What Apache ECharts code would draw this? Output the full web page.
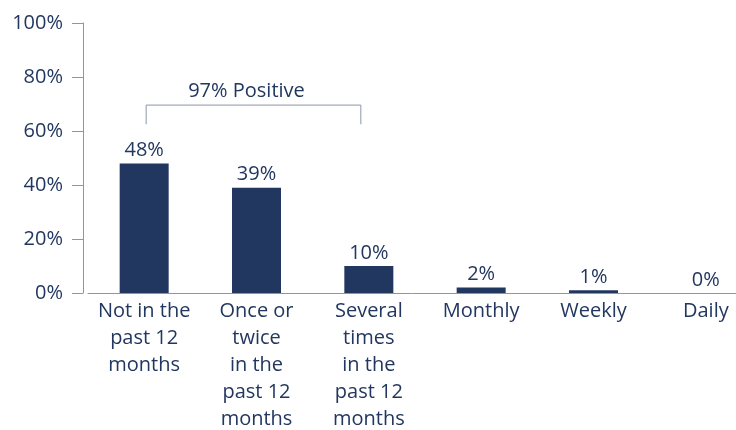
<!DOCTYPE html>
<html>
<head>
<meta charset="utf-8">
<script src="https://cdn.jsdelivr.net/npm/echarts@6/dist/echarts.min.js"></script>
<style>
html,body{margin:0;padding:0;background:#fff;}
#chart{width:736px;height:430px;}
</style>
</head>
<body>
<div id="chart"></div>
<script>
const categories = [
  "Not in the\npast 12\nmonths",
  "Once or\ntwice\nin the\npast 12\nmonths",
  "Several\ntimes\nin the\npast 12\nmonths",
  "Monthly",
  "Weekly",
  "Daily"
];
const values = [48, 39, 10, 2, 1, 0];
const yTicks = [0, 20, 40, 60, 80, 100];
const bracketFrom = 0;
const bracketTo = 2;
const bracketLabel = "97% Positive";
const bracketTop = 69.6;
const bracketFoot = 62.5;

const navy = "#22375f";
const axisGray = "#8b96ac";
const font = "Open Sans";
const fs = 20;

const chart = echarts.init(document.getElementById('chart'), null, {renderer: 'canvas'});
chart.setOption({
  animation: false,
  grid: {left: 88, top: 23, width: 674, height: 270, containLabel: false, outerBoundsMode: 'none'},
  xAxis: {
    type: 'category',
    data: categories,
    axisLine: {show: true, lineStyle: {color: axisGray, width: 1}},
    axisTick: {show: false},
    axisLabel: {
      interval: 0, color: navy, fontFamily: font, fontSize: fs,
      lineHeight: 27, margin: 5, verticalAlign: 'top'
    }
  },
  yAxis: {
    type: 'value',
    min: yTicks[0], max: yTicks[yTicks.length - 1], interval: 20,
    offset: 5,
    axisLine: {show: true, lineStyle: {color: axisGray, width: 1}},
    axisTick: {show: true, inside: false, length: 11, lineStyle: {color: axisGray}},
    splitLine: {show: false},
    axisLabel: {
      color: navy, fontFamily: font, fontSize: fs, margin: 20,
      formatter: v => v + '%'
    }
  },
  series: [
    {
      type: 'bar',
      data: values,
      barWidth: 49,
      itemStyle: {color: navy},
      label: {
        show: true, position: 'top', distance: 3,
        color: navy, fontFamily: font, fontSize: fs,
        formatter: p => p.value + '%'
      }
    },
    {
      type: 'custom',
      data: [[bracketFrom, bracketTo, bracketTop, bracketFoot]],
      silent: true,
      renderItem: function (params, api) {
        const a = api.value(0), b = api.value(1), top = api.value(2), foot = api.value(3);
        const p1 = api.coord([a, foot]);
        const p2 = api.coord([a, top]);
        const p3 = api.coord([b, top]);
        const p4 = api.coord([b, foot]);
        const mid = api.coord([(a + b) / 2, top]);
        return {
          type: 'group',
          children: [
            {
              type: 'polyline',
              shape: {points: [[p1[0] + 2, p1[1]], [p2[0] + 2, p2[1]], [p3[0] - 8, p3[1]], [p4[0] - 8, p4[1]]]},
              style: {stroke: axisGray, lineWidth: 1, fill: null}
            },
            {
              type: 'text',
              x: mid[0] - 10, y: mid[1] - 4,
              style: {
                text: bracketLabel, fill: navy, font: fs + 'px "' + font + '"',
                textAlign: 'center', textVerticalAlign: 'bottom'
              }
            }
          ]
        };
      }
    }
  ]
});
</script>
</body>
</html>
